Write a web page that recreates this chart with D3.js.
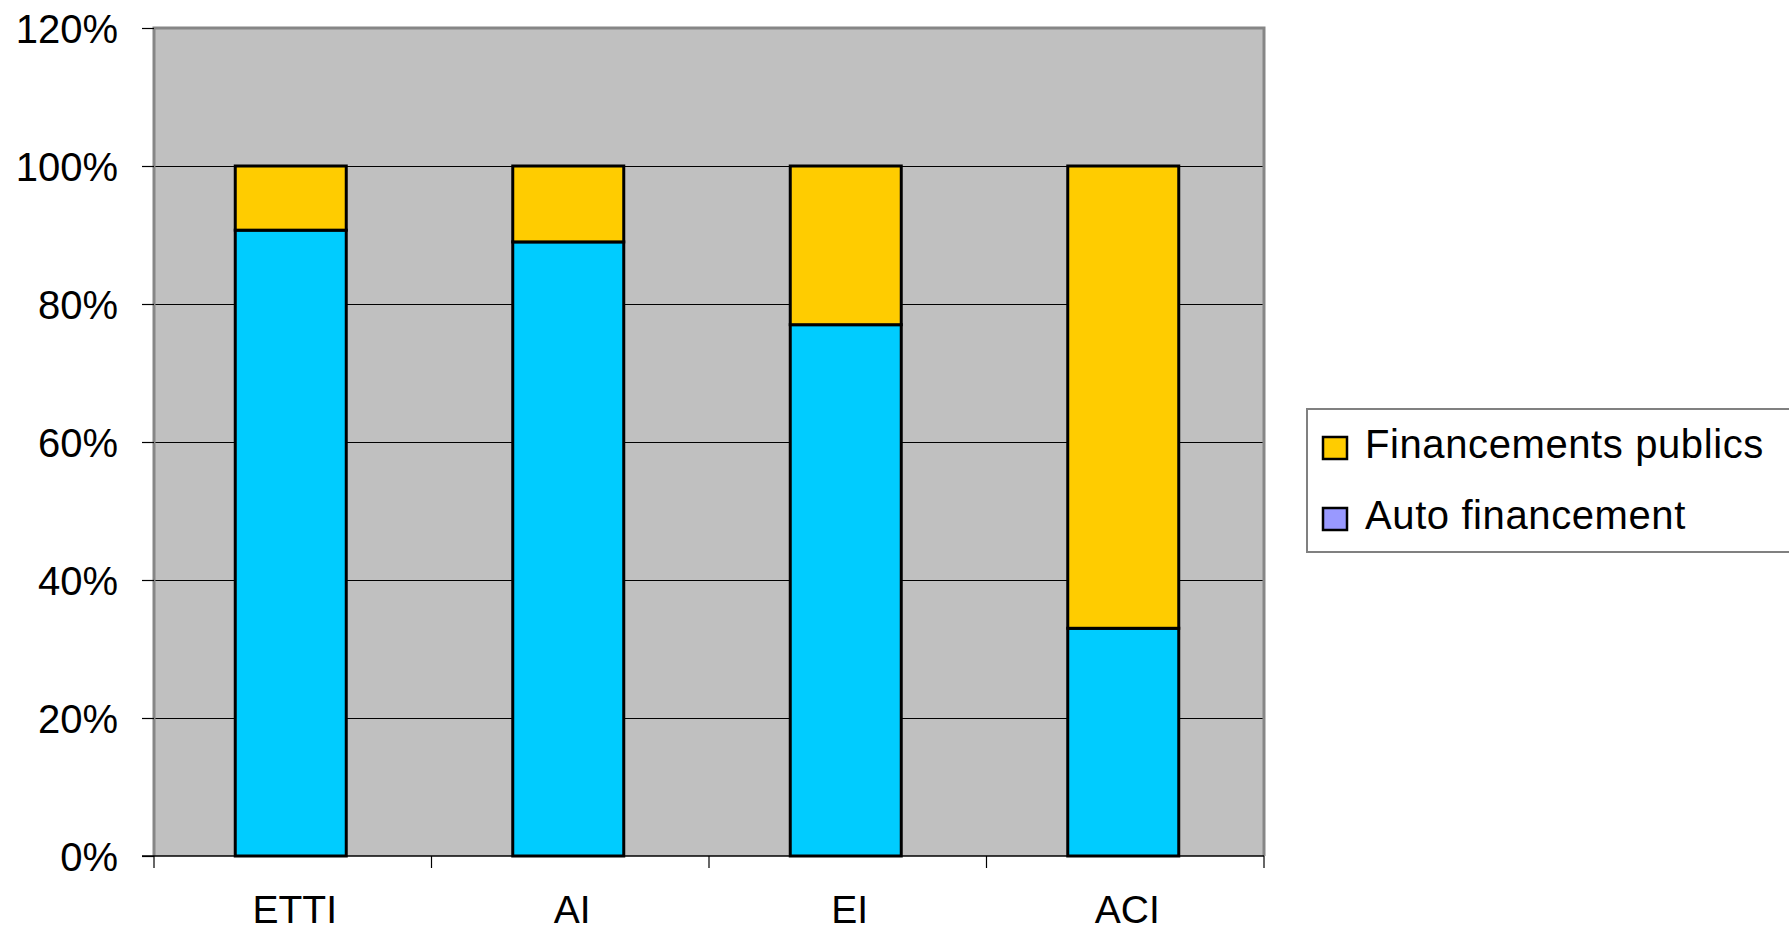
<!DOCTYPE html>
<html>
<head>
<meta charset="utf-8">
<script src="https://cdn.jsdelivr.net/npm/d3@7"></script>
<style>
  html, body { margin: 0; padding: 0; background: #ffffff; overflow: hidden; }
  svg { display: block; }
  text { font-family: "Liberation Sans", Arial, sans-serif; fill: #000; }
</style>
</head>
<body>
<svg id="chart" width="1789" height="933"></svg>
<script>
// ---- Data ----
const categories = ["ETTI", "AI", "EI", "ACI"];
const autoFinancement = [0.907, 0.89, 0.77, 0.33];
const financementsPublics = [0.093, 0.11, 0.23, 0.67];
const yTicks = [0, 0.2, 0.4, 0.6, 0.8, 1.0, 1.2];
const yTickLabels = ["0%", "20%", "40%", "60%", "80%", "100%", "120%"];
const legendLabels = ["Financements publics", "Auto financement"];

// ---- Layout ----
const W = 1789, H = 933;
const plot = { left: 154, right: 1264, top: 28, bottom: 856 };
const colors = { publics: "#FFCC00", auto: "#00CCFF", autoLegend: "#9999FF", plotBg: "#C0C0C0" };

const svg = d3.select("#chart");

const x = d3.scaleBand()
  .domain(categories)
  .range([plot.left, plot.right])
  .paddingInner(0.6)
  .paddingOuter(0.3);

const y = d3.scaleLinear()
  .domain([0, 1.2])
  .range([plot.bottom, plot.top]);

// Plot background
svg.append("rect")
  .attr("x", plot.left).attr("y", plot.top)
  .attr("width", plot.right - plot.left).attr("height", plot.bottom - plot.top)
  .attr("fill", colors.plotBg);

// Gridlines
svg.append("g")
  .selectAll("line")
  .data(yTicks.filter(d => d > 0 && d < 1.2))
  .join("line")
  .attr("x1", plot.left).attr("x2", plot.right)
  .attr("y1", d => Math.round(y(d)) + 0.5).attr("y2", d => Math.round(y(d)) + 0.5)
  .attr("stroke", "#000").attr("stroke-width", 1.2);

// Plot border (top, left, right) in grey
svg.append("path")
  .attr("d", `M${plot.left},${plot.bottom} L${plot.left},${plot.top} L${plot.right},${plot.top} L${plot.right},${plot.bottom}`)
  .attr("fill", "none").attr("stroke", "#868686").attr("stroke-width", 3);

// Stacked data
const rows = categories.map((c, i) => ({ cat: c, auto: autoFinancement[i], publics: financementsPublics[i] }));
const stack = d3.stack().keys(["auto", "publics"]);
const series = stack(rows);
const fillFor = { auto: colors.auto, publics: colors.publics };

svg.append("g")
  .selectAll("g")
  .data(series)
  .join("g")
  .attr("fill", d => fillFor[d.key])
  .selectAll("rect")
  .data(d => d)
  .join("rect")
  .attr("x", d => x(d.data.cat) - 2)
  .attr("width", x.bandwidth())
  .attr("y", d => y(d[1]))
  .attr("height", d => y(d[0]) - y(d[1]))
  .attr("stroke", "#000")
  .attr("stroke-width", 3);

// Y axis
const yAxis = d3.axisLeft(y)
  .tickValues(yTicks)
  .tickFormat((d, i) => yTickLabels[i])
  .tickSize(12)
  .tickPadding(24);
const yg = svg.append("g").attr("transform", `translate(${plot.left},0)`).call(yAxis);
yg.select(".domain").remove();
yg.selectAll(".tick line").attr("stroke", "#000").attr("stroke-width", 1.2);
yg.selectAll(".tick text")
  .style("font-family", '"Liberation Sans", Arial, sans-serif')
  .style("font-size", "40px")
  .attr("fill", "#000")
  .attr("dy", "0.35em");

// X axis line
svg.append("line")
  .attr("x1", plot.left - 12).attr("x2", plot.right)
  .attr("y1", plot.bottom).attr("y2", plot.bottom)
  .attr("stroke", "#000").attr("stroke-width", 1.5);

// X category ticks (at band boundaries)
const boundaries = categories.map(c => x(c) - x.step() * x.paddingOuter()).concat([plot.right]);
svg.append("g")
  .selectAll("line")
  .data(boundaries)
  .join("line")
  .attr("x1", d => d).attr("x2", d => d)
  .attr("y1", plot.bottom).attr("y2", plot.bottom + 12)
  .attr("stroke", "#000").attr("stroke-width", 1.2);

// X labels
svg.append("g")
  .selectAll("text")
  .data(categories)
  .join("text")
  .attr("x", d => x(d) + x.bandwidth() / 2 + 2)
  .attr("y", 923)
  .attr("text-anchor", "middle")
  .style("font-size", "39px")
  .text(d => d);

// Legend
const lg = svg.append("g");
lg.append("rect")
  .attr("x", 1307).attr("y", 409)
  .attr("width", 500).attr("height", 143)
  .attr("fill", "#fff").attr("stroke", "#808080").attr("stroke-width", 2);
const legendColors = [colors.publics, colors.autoLegend];
const legendBase = [458, 529];
legendLabels.forEach((lab, i) => {
  lg.append("rect")
    .attr("x", 1323).attr("y", legendBase[i] - 21)
    .attr("width", 24).attr("height", 22)
    .attr("fill", legendColors[i])
    .attr("stroke", "#000").attr("stroke-width", 2.5);
  lg.append("text")
    .attr("x", 1365).attr("y", legendBase[i])
    .style("font-size", "40px")
    .style("letter-spacing", "0.6px")
    .text(lab);
});
</script>
</body>
</html>
